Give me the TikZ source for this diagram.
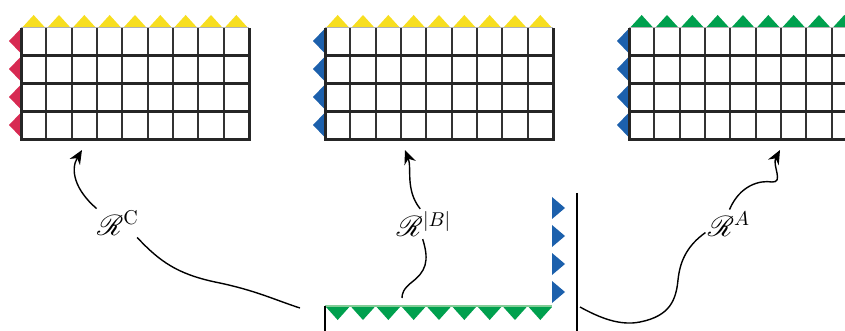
\documentclass[tikz,border=0pt]{standalone}
\usepackage{amsmath,amssymb}
\usepackage{mathrsfs}
\usepackage{xcolor}
\usepackage{tikz}
\usetikzlibrary{arrows.meta,calc}
\definecolor{tagyellow}{RGB}{247,222,32}
\definecolor{tagred}{RGB}{215,42,82}
\definecolor{tagblue}{RGB}{28,96,172}
\definecolor{taggreen}{RGB}{0,160,78}
\definecolor{edgegreen}{RGB}{130,205,150}
\tikzset{
  colline/.style={
    draw=black!80,
    line width=1.1pt
  },
  rowline/.style={
    draw=black!85,
    line width=1.5pt
  },
  topline/.style={
    draw=black!30,
    line width=0.5pt
  },
  wall/.style={
    draw=black,
    line width=0.6pt
  },
  maplabel/.style={
    inner sep=1pt,
    font=\fontsize{14}{17}\selectfont
  },
  link/.style={black, line width=0.7pt},
  flow/.style={-{Stealth[length=7pt,width=6pt]}, black, line width=0.7pt}
}

\begin{document}
\begin{tikzpicture}[x=0.5pt, y=-0.5pt]
\useasboundingbox (0,0) rectangle (845,331);
\clip (0,0) rectangle (845,331);
% three grids
\foreach \gx/\lc/\tc in {21/tagred/tagyellow, 325/tagblue/tagyellow, 629/tagblue/taggreen} {
  \foreach \i in {0,...,8}
    \fill[\tc] (\gx+\i*25.33+0.8,28) -- (\gx+\i*25.33+12.67,15) -- (\gx+\i*25.33+24.5,28) -- cycle;
  \foreach \j in {0,...,3}
    \fill[\lc] (\gx,28+\j*28+0.5) -- (\gx-12,28+\j*28+13) -- (\gx,28+\j*28+25.5) -- cycle;
  \foreach \i in {1,...,8}
    \draw[colline] (\gx+\i*25.33,28) -- ++(0,112);
  \foreach \j in {1,2,3}
    \draw[rowline] (\gx,28+\j*28) -- ++(228,0);
  \draw[topline] (\gx,28) -- ++(228,0);
  \draw[rowline] (\gx,28) -- (\gx,140) -- (\gx+228,140) -- (\gx+228,28);
}
% corner piece
\draw[edgegreen, line width=1pt] (325,306) -- (552,306);
\foreach \i in {0,...,8}
  \fill[taggreen] (325+\i*25.33+1,307) -- (325+\i*25.33+12.67,320) -- (325+\i*25.33+24.33,307) -- cycle;
\foreach \j in {0,...,3}
  \fill[tagblue] (552,303-\j*28) -- (565,292-\j*28) -- (552,281-\j*28) -- cycle;
\draw[wall] (325,306) -- (325,331);
\draw[wall] (577,193) -- (577,331);
% labels and targets
\node[maplabel] (rc) at (118,223) {$\mathscr{R}^{\mathrm{C}}$};
\node[maplabel] (rb) at (424,224) {$\mathscr{R}^{|B|}$};
\node[maplabel] (ra) at (729,224) {$\mathscr{R}^{A}$};
\coordinate (ctip) at (82,150);
\coordinate (btip) at (405,150);
\coordinate (atip) at (780,150);
\coordinate (cfoot) at (300,308);
\coordinate (bfoot) at (402,298);
\coordinate (afoot) at (580,307);
% connectors
\draw[flow] (rc.146) .. controls (75,190) and (70,170) .. (ctip);
\draw[link] (rc.-37) .. controls (160,262) and (178,274) .. (215,282) .. controls (255,290) and (275,300) .. (cfoot);
\draw[flow] (rb.104) .. controls (405,190) and (412,168) .. (btip);
\draw[link] (rb.-95) .. controls (430,262) and (425,272) .. (412,282) .. controls (403,289) and (402,294) .. (bfoot);
\draw[flow] (ra.88) .. controls (740,185) and (760,180) .. (772,182) .. controls (784,183) and (772,165) .. (atip);
\draw[link] (afoot) .. controls (600,318) and (620,326) .. (640,322) .. controls (670,316) and (676,300) .. (678,280) .. controls (680,260) and (688,245) .. (ra.200);
\end{tikzpicture}
\end{document}
